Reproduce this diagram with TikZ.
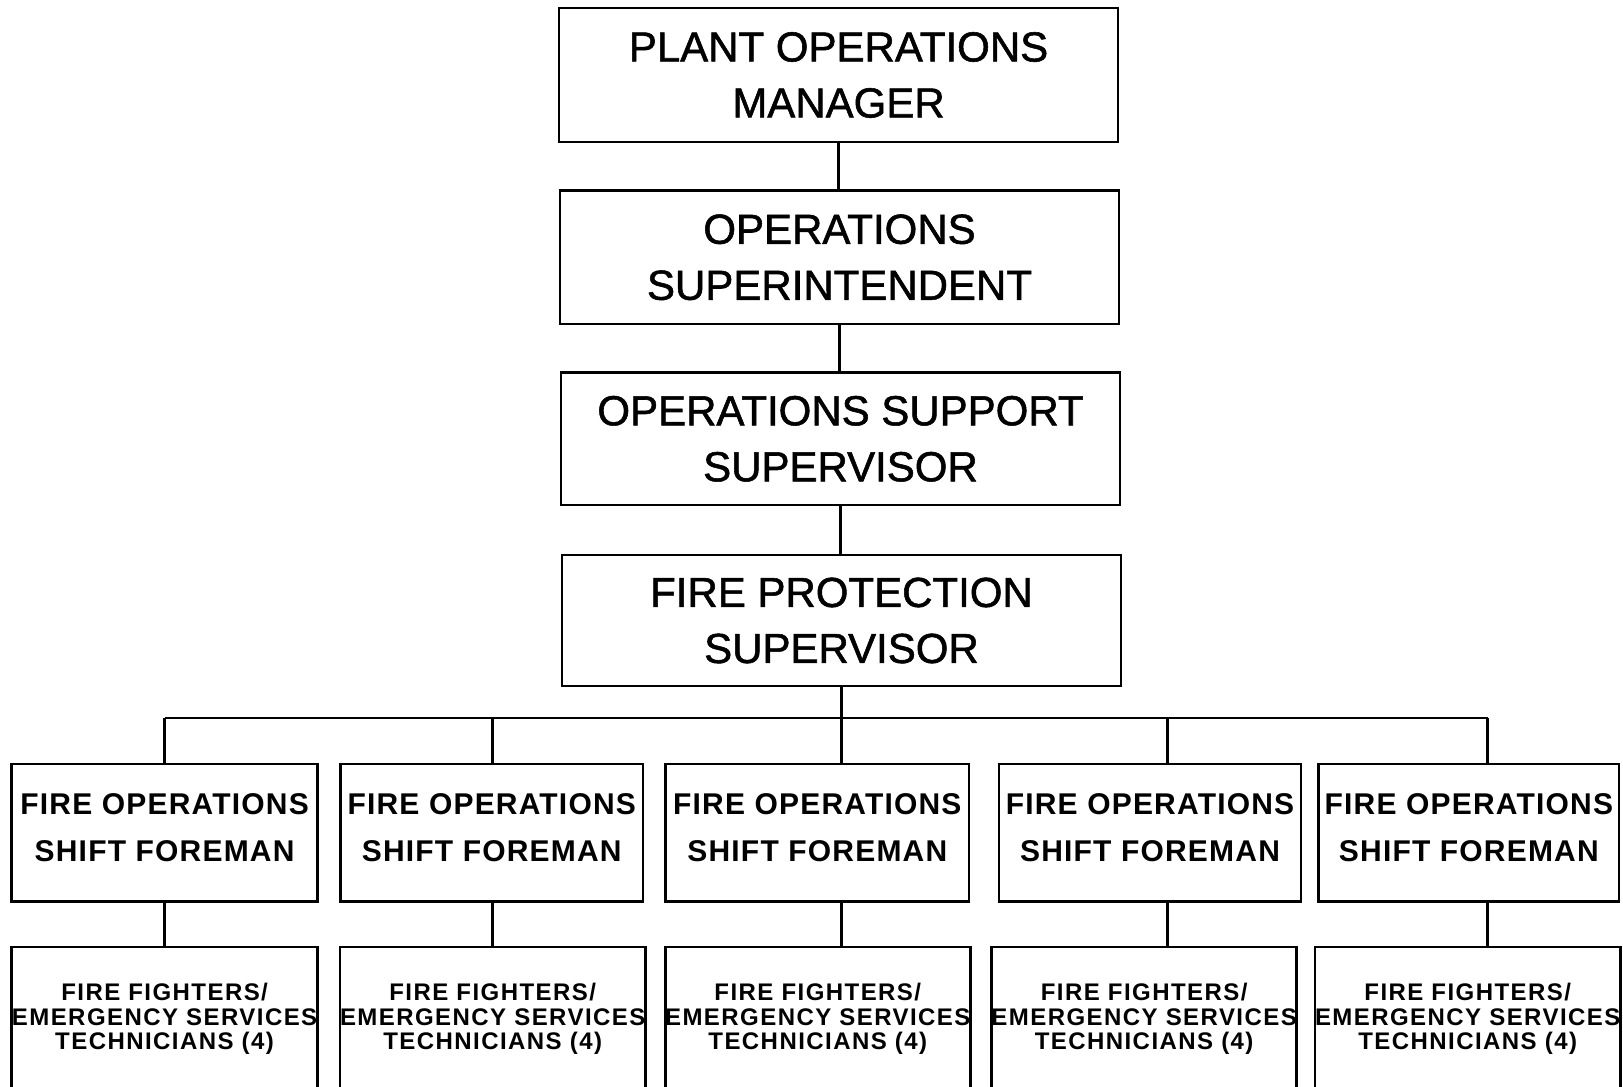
\documentclass[tikz,border=0pt]{standalone}
\usepackage{fontspec}
\setmainfont{Liberation Sans}
\begin{document}
\begin{tikzpicture}[x=1pt,y=-1pt, line width=2.8pt,
 box/.style={draw, rectangle, inner sep=0pt, align=center},
 topbox/.style={box, minimum width=559pt, font=\fontsize{42}{56}\selectfont\addfontfeature{FakeBold=1.3}},
 fbox/.style={box, minimum height=137.6pt, font=\fontsize{30}{47.5}\selectfont\bfseries\addfontfeature{LetterSpace=4}},
 tbox/.style={box, minimum height=144pt, font=\fontsize{24}{24.5}\selectfont\bfseries\addfontfeature{LetterSpace=6}},
 link/.style={draw, line width=2.8pt}
]
\fill[white] (0,0) rectangle (1623,1087);
\useasboundingbox (0,0) rectangle (1623,1087);

\node[topbox, minimum height=134pt] (m) at (838.5,75) {PLANT OPERATIONS\\MANAGER};
\node[topbox, minimum height=133.5pt] (s) at (839.5,257.3) {OPERATIONS\\SUPERINTENDENT};
\node[topbox, minimum height=132.4pt] (o) at (840.5,438.8) {OPERATIONS SUPPORT\\SUPERVISOR};
\node[topbox, minimum height=131pt] (p) at (841.5,620.5) {FIRE PROTECTION\\SUPERVISOR};

\newcommand{\foreman}{FIRE OPERATIONS\\SHIFT FOREMAN\\[-37pt]\mbox{}}
\node[fbox, minimum width=306.4pt] (fa) at (164.6,832.8) {\foreman};
\node[fbox, minimum width=302.5pt] (fb) at (491.75,832.8) {\foreman};
\node[fbox, minimum width=303.4pt] (fc) at (817.3,832.8) {\foreman};
\node[fbox, minimum width=302pt] (fd) at (1150,832.8) {\foreman};
\node[fbox, minimum width=300.3pt] (fe) at (1468.85,832.8) {\foreman};

\newcommand{\techs}{FIRE FIGHTERS/\\EMERGENCY SERVICES\\TECHNICIANS (4)}
\node[tbox, minimum width=306.4pt] (ta) at (164.6,1019) {\techs};
\node[tbox, minimum width=302.2pt] (tb) at (492.7,1019) {\techs};
\node[tbox, minimum width=302.4pt] (tc) at (817.8,1019) {\techs};
\node[tbox, minimum width=303.1pt] (td) at (1144.15,1019) {\techs};
\node[tbox, minimum width=300.2pt] (te) at (1467.7,1019) {\techs};

\coordinate (da) at (164.6,718);
\coordinate (db) at (492.7,718);
\coordinate (dc) at (841.5,718);
\coordinate (dd) at (1167.6,718);
\coordinate (de) at (1487.5,718);

\draw[link] (m.south) -- (m.south |- s.north);
\draw[link] (s.south) -- (s.south |- o.north);
\draw[link] (o.south) -- (o.south |- p.north);
\draw[link] (p.south) -- (p.south |- dc);
\draw[link] (da) -- (de);
\foreach \d/\f/\t in {da/fa/ta, db/fb/tb, dc/fc/tc, dd/fd/td, de/fe/te}{
  \draw[link] (\d) -- (\d |- \f.north);
  \draw[link] (\d |- \f.south) -- (\d |- \t.north);
}
\end{tikzpicture}
\end{document}
